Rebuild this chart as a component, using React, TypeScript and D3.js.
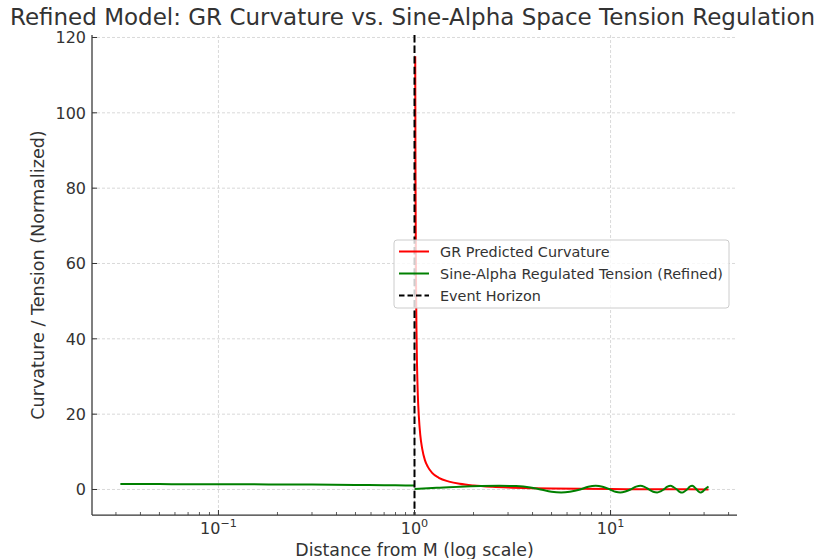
import React from "react";
import * as d3 from "d3";

const W = 820;
const H = 559;

// GR predicted curvature
const grR = [1.0087, 1.011, 1.014, 1.018, 1.023, 1.03, 1.04, 1.052, 1.07, 1.095, 1.13, 1.17, 1.23, 1.33, 1.5, 1.7, 2.0, 2.5, 3.0, 4.0, 5.0, 7.0, 10, 15, 20, 25, 31.6];
const grV = [115, 91, 71, 56, 43, 33, 25, 19.5, 14.5, 10.8, 7.8, 6.0, 4.4, 3.1, 2.1, 1.5, 1.05, 0.7, 0.52, 0.35, 0.26, 0.17, 0.11, 0.07, 0.05, 0.04, 0.03];

// Sine-alpha regulated tension, inside the horizon
const tenInR = [0.0316, 0.05, 0.1, 0.2, 0.3, 0.5, 0.7, 0.9, 0.999];
const tenInV = [1.45, 1.43, 1.4, 1.35, 1.3, 1.22, 1.15, 1.08, 1.05];
// outside the horizon
const tenOutR = [1.001, 1.3, 1.7, 2.2, 2.7, 3.3, 3.9, 4.4, 5.0, 5.6, 6.2, 7.0, 7.7, 8.4, 9.1, 9.9, 10.6, 11.2, 11.9, 12.7, 13.5, 14.2, 14.9, 15.7, 16.5, 17.3, 18.0, 18.7, 19.5, 20.2, 21.0, 21.8, 22.5, 23.2, 24.0, 24.7, 25.4, 26.1, 26.8, 27.5, 28.2, 28.8, 29.6, 30.5, 31.6];
const tenOutV = [0.15, 0.45, 0.75, 0.92, 0.97, 0.9, 0.55, 0.0, -0.6, -0.78, -0.6, 0.0, 0.75, 1.0, 0.75, 0.05, -0.6, -0.8, -0.55, 0.05, 0.75, 1.0, 0.7, 0.0, -0.6, -0.8, -0.5, 0.05, 0.75, 1.0, 0.6, 0.0, -0.6, -0.8, -0.4, 0.1, 0.8, 1.0, 0.6, 0.0, -0.6, -0.8, -0.5, 0.2, 0.8];

const yTicks = [0, 20, 40, 60, 80, 100, 120];
const xMajor = [0.1, 1, 10];
const xMajorExp = ["\u22121", "0", "1"];
const eventHorizon = 1;

const legendItems = [
  { label: "GR Predicted Curvature", color: "#ff0000", dash: "" },
  { label: "Sine-Alpha Regulated Tension (Refined)", color: "#008000", dash: "" },
  { label: "Event Horizon", color: "#000000", dash: "5.5,3" },
];

const TXT = "#333333";
const FONT = "DejaVu Sans, sans-serif";

export default function App() {
  const left = 92, right = 737, top = 35, bottom = 515;
  const x = d3.scaleLog().domain([Math.pow(10, -1.645), Math.pow(10, 1.645)]).range([left, right]);
  const y = d3.scaleLinear().domain([-6.77, 120.66]).range([bottom, top]);

  const line = d3
    .line<[number, number]>()
    .x((d) => x(d[0]))
    .y((d) => y(d[1]))
    .curve(d3.curveMonotoneX);

  const grPath = line(grR.map((r, i) => [r, grV[i]] as [number, number])) || "";
  const tenPath =
    (line(tenInR.map((r, i) => [r, tenInV[i]] as [number, number])) || "") +
    (line(tenOutR.map((r, i) => [r, tenOutV[i]] as [number, number])) || "");

  const [d0, d1] = x.domain();
  const minor: number[] = [];
  for (let e = -3; e <= 3; e++) {
    for (let m = 2; m <= 9; m++) {
      const v = m * Math.pow(10, e);
      if (v >= d0 && v <= d1) minor.push(v);
    }
  }

  const lgX = 394, lgY = 240, lgW = 335, lgH = 68;

  return (
    <svg
      width={W}
      height={H}
      style={{ position: "absolute", left: 0, top: 0, background: "#fff" }}
      fontFamily={FONT}
    >
      <rect x={0} y={0} width={W} height={H} fill="#fff" />
      <defs>
        <clipPath id="plotclip">
          <rect x={left} y={top} width={right - left} height={bottom - top} />
        </clipPath>
      </defs>
      {/* grid */}
      <g stroke="#cfcfcf" strokeWidth={0.8} strokeDasharray="3,2">
        {yTicks.map((t) => (
          <line key={"gy" + t} x1={left} x2={right} y1={y(t)} y2={y(t)} />
        ))}
        {xMajor.map((t) => (
          <line key={"gx" + t} x1={x(t)} x2={x(t)} y1={top} y2={bottom} />
        ))}
      </g>
      {/* data */}
      <g clipPath="url(#plotclip)" fill="none">
        <path d={grPath} stroke="#ff0000" strokeWidth={2} />
        <path d={tenPath} stroke="#008000" strokeWidth={2} />
        <line
          x1={x(eventHorizon)}
          x2={x(eventHorizon)}
          y1={top}
          y2={bottom}
          stroke="#000"
          strokeWidth={2}
          strokeDasharray="7.4,3.2"
        />
      </g>
      {/* spines */}
      <g stroke={TXT} strokeWidth={1.25} fill="none">
        <line x1={left} x2={left} y1={top} y2={bottom} />
        <line x1={left} x2={right} y1={bottom} y2={bottom} />
      </g>
      {/* y ticks */}
      <g>
        {yTicks.map((t) => (
          <g key={"yt" + t}>
            <line x1={left} x2={left + 5} y1={y(t)} y2={y(t)} stroke={TXT} strokeWidth={1} />
            <text x={left - 6} y={y(t)} dy="0.36em" textAnchor="end" fontSize={16} fill={TXT}>
              {t}
            </text>
          </g>
        ))}
      </g>
      {/* x ticks */}
      <g>
        {minor.map((t) => (
          <line key={"xm" + t} x1={x(t)} x2={x(t)} y1={bottom} y2={bottom - 3} stroke={TXT} strokeWidth={0.8} />
        ))}
        {xMajor.map((t, i) => (
          <g key={"xt" + t}>
            <line x1={x(t)} x2={x(t)} y1={bottom} y2={bottom - 5} stroke={TXT} strokeWidth={1} />
            <text x={x(t)} y={533.5} textAnchor="middle" fontSize={16} fill={TXT}>
              10
              <tspan fontSize={11.2} dy={-7}>
                {xMajorExp[i]}
              </tspan>
            </text>
          </g>
        ))}
      </g>
      {/* axis labels */}
      <text x={(left + right) / 2} y={556} textAnchor="middle" fontSize={17.4} fill={TXT}>
        Distance from M (log scale)
      </text>
      <text
        transform={`translate(44,275) rotate(-90)`}
        textAnchor="middle"
        fontSize={17.6}
        fill={TXT}
      >
        Curvature / Tension (Normalized)
      </text>
      {/* title */}
      <text x={412.5} y={25} textAnchor="middle" fontSize={23} fill={TXT}>
        Refined Model: GR Curvature vs. Sine-Alpha Space Tension Regulation
      </text>
      {/* legend */}
      <g>
        <rect x={lgX} y={lgY} width={lgW} height={lgH} rx={3} fill="#fff" fillOpacity={0.8} stroke="#cccccc" strokeWidth={1} />
        {legendItems.map((it, i) => {
          const cy = lgY + 11.5 + i * 22;
          return (
            <g key={it.label}>
              <line
                x1={lgX + 5}
                x2={lgX + 35}
                y1={cy}
                y2={cy}
                stroke={it.color}
                strokeWidth={2}
                strokeDasharray={it.dash || undefined}
              />
              <text x={lgX + 46} y={cy} dy="0.36em" fontSize={14.4} fill={TXT}>
                {it.label}
              </text>
            </g>
          );
        })}
      </g>
    </svg>
  );
}
